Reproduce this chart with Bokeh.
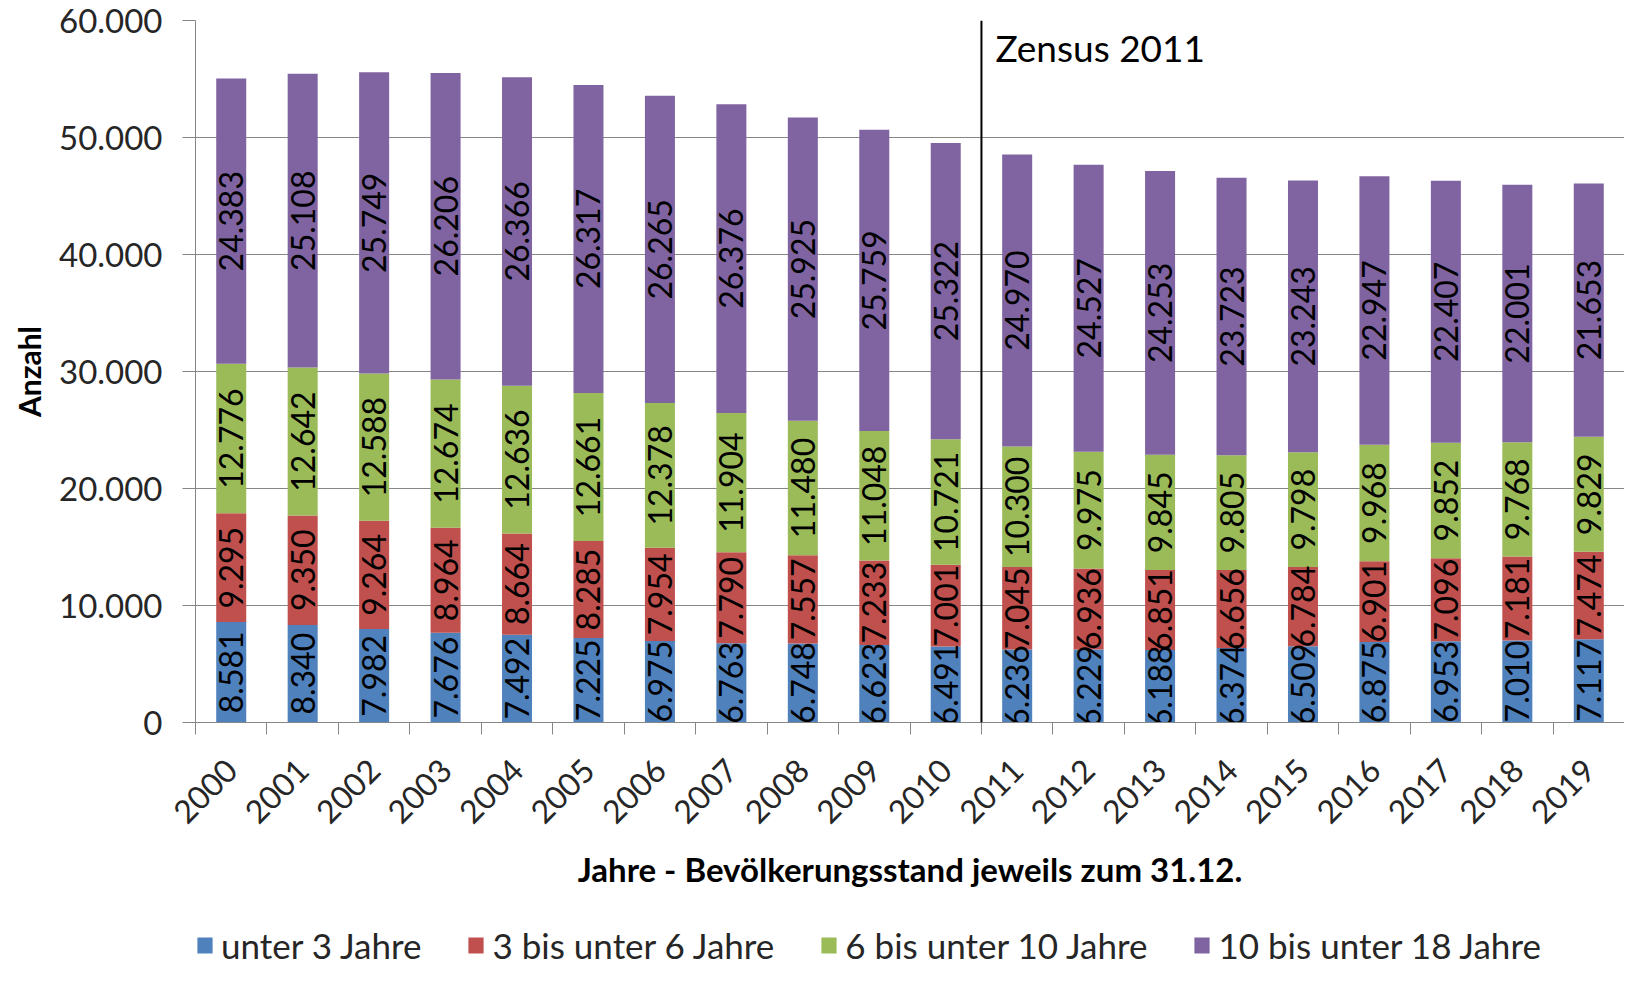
import numpy as np
from math import pi
from bokeh.plotting import figure
from bokeh.layouts import column
from bokeh.models import (ColumnDataSource, Range1d, FixedTicker, Span, Label,
                          Legend, LegendItem)
from bokeh.core.properties import value
from bokeh.embed import file_html
from bokeh.resources import INLINE

# ---------------- data ----------------
years = [str(y) for y in range(2000, 2020)]
unter3 = [8581, 8340, 7982, 7676, 7492, 7225, 6975, 6763, 6748, 6623,
          6491, 6236, 6229, 6188, 6374, 6509, 6875, 6953, 7010, 7117]
von3bis6 = [9295, 9350, 9264, 8964, 8664, 8285, 7954, 7790, 7557, 7233,
            7001, 7045, 6936, 6851, 6656, 6784, 6901, 7096, 7181, 7474]
von6bis10 = [12776, 12642, 12588, 12674, 12636, 12661, 12378, 11904, 11480, 11048,
             10721, 10300, 9975, 9845, 9805, 9798, 9968, 9852, 9768, 9829]
von10bis18 = [24383, 25108, 25749, 26206, 26366, 26317, 26265, 26376, 25925, 25759,
              25322, 24970, 24527, 24253, 23723, 23243, 22947, 22407, 22001, 21653]
series_names = ["unter 3 Jahre", "3 bis unter 6 Jahre",
                "6 bis unter 10 Jahre", "10 bis unter 18 Jahre"]
colors = ["#4F81BD", "#C0504D", "#9BBB59", "#8064A2"]
y_ticks = [0, 10000, 20000, 30000, 40000, 50000, 60000]
y_tick_labels = ["0", "10.000", "20.000", "30.000", "40.000", "50.000", "60.000"]
census_year = "2011"
census_label = "Zensus 2011"
census_label_y = 57700
x_title = "Jahre - Bevölkerungsstand jeweils zum 31.12."
y_title = "Anzahl"

FONT = "Lato"
GRID = "#868686"

# ---------------- main chart ----------------
keys = ["s0", "s1", "s2", "s3"]
series = [unter3, von3bis6, von6bis10, von10bis18]
xpos = np.arange(len(years)) + 0.5
data = dict(x=xpos)
for k, s in zip(keys, series):
    data[k] = s
source = ColumnDataSource(data)

p = figure(width=1624, height=900,
           x_range=Range1d(0, len(years)), y_range=Range1d(0, 60000),
           output_backend="svg", toolbar_location=None,
           min_border_left=195, min_border_right=0, min_border_top=20,
           min_border_bottom=178)
p.outline_line_color = None
p.background_fill_color = "white"

renderers = p.vbar_stack(keys, x="x", width=0.42, color=colors, source=source,
                         line_color=None)

# value labels centred in segments
cum = np.zeros(len(years))
for s in series:
    arr = np.array(s, dtype=float)
    mid = cum + arr / 2.0
    cum = cum + arr
    lsrc = ColumnDataSource(dict(x=xpos, y=mid,
                                 t=[f"{v:,}".replace(",", ".") for v in s]))
    p.text(x="x", y="y", text="t", source=lsrc, angle=pi / 2,
           text_align="center", text_baseline="middle",
           text_font=value(FONT), text_font_size=value("32px"),
           text_color="black")

# census line
cidx = years.index(census_year)
p.add_layout(Span(location=cidx, dimension="height", line_color="black",
                  line_width=2))
p.add_layout(Label(x=cidx, y=census_label_y, x_offset=14, text=census_label,
                   text_baseline="middle", text_font=FONT,
                   text_font_size="37px", text_color="black"))

# grid
p.xgrid.visible = False
p.ygrid.grid_line_color = GRID
p.ygrid.grid_line_width = 1
p.ygrid.ticker = FixedTicker(ticks=y_ticks)

# y axis
ya = p.yaxis[0]
ya.ticker = FixedTicker(ticks=y_ticks)
ya.major_label_overrides = {t: l for t, l in zip(y_ticks, y_tick_labels)}
ya.axis_line_color = GRID
ya.major_tick_line_color = GRID
ya.major_tick_out = 13
ya.major_tick_in = 0
ya.minor_tick_line_color = None
ya.major_label_text_font = FONT
ya.major_label_text_font_size = "33px"
ya.major_label_text_color = "#262626"
ya.major_label_standoff = 20
ya.axis_label = y_title
ya.axis_label_text_font = FONT
ya.axis_label_text_font_style = "bold"
ya.axis_label_text_font_size = "30px"
ya.axis_label_text_color = "black"
ya.axis_label_standoff = 9

# x axis
xa = p.xaxis[0]
xa.ticker = FixedTicker(ticks=list(xpos), minor_ticks=list(range(len(years) + 1)))
xa.major_label_overrides = {float(xv): y for xv, y in zip(xpos, years)}
xa.axis_line_color = GRID
xa.major_tick_line_color = None
xa.major_tick_out = 0
xa.major_tick_in = 0
xa.minor_tick_line_color = GRID
xa.minor_tick_out = 12
xa.minor_tick_in = 0
xa.major_label_orientation = pi / 4
xa.major_label_text_font = FONT
xa.major_label_text_font_size = "32px"
xa.major_label_text_color = "#262626"
xa.major_label_standoff = 30
xa.axis_label = x_title
xa.axis_label_text_font = FONT
xa.axis_label_text_font_style = "bold"
xa.axis_label_text_font_size = "33px"
xa.axis_label_text_color = "black"
xa.axis_label_standoff = 12

# ---------------- legend strip ----------------
lf = figure(width=1624, height=68, x_range=Range1d(0, 1), y_range=Range1d(0, 1),
            output_backend="svg", toolbar_location=None,
            x_axis_type=None, y_axis_type=None,
            min_border=0, min_border_left=0, min_border_right=0,
            min_border_top=0, min_border_bottom=0)
lf.outline_line_color = None
lf.xgrid.visible = False
lf.ygrid.visible = False
proxies = [lf.vbar(x=[0.0], top=[0.0], bottom=[0.0], width=0.0001, color=c,
                   line_color=None) for c in colors]
items = [LegendItem(label=n, renderers=[r]) for n, r in zip(series_names, proxies)]
legend = Legend(items=items, orientation="horizontal", location=(0, 2),
                glyph_width=19, glyph_height=20, label_standoff=7, spacing=45,
                label_text_font=FONT, label_text_font_size="35px",
                label_text_color="#262626",
                border_line_color=None, background_fill_alpha=0,
                margin=0, padding=0)
lf.add_layout(legend, "center")

layout = column(p, lf, spacing=0)
open("out.html", "w").write(file_html(layout, INLINE))
